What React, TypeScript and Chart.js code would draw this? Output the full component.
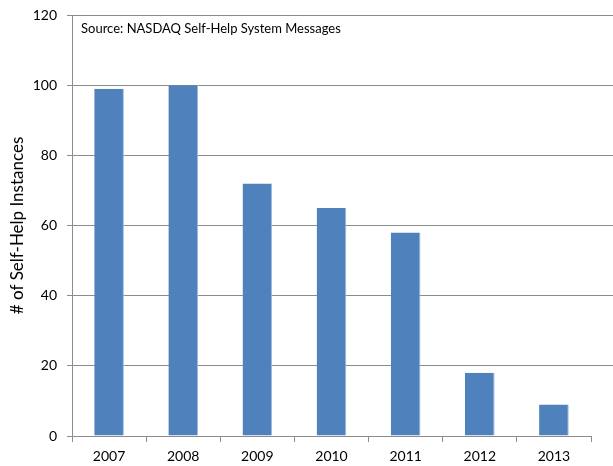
import React, { useEffect, useRef } from "react";
import { Chart, registerables } from "chart.js";

Chart.register(...registerables);

const categories = ["2007", "2008", "2009", "2010", "2011", "2012", "2013"];
const instances = [99, 100, 72, 65, 58, 18, 9];
const yTicks = [0, 20, 40, 60, 80, 100, 120];
const sourceNote = "Source: NASDAQ Self-Help System Messages";
const yTitle = "# of Self-Help Instances";

const FONT = "Lato, 'Liberation Sans', sans-serif";
const GRID = "#8c8c8c";

const extendGrid = {
  id: "extendGrid",
  beforeDatasetsDraw(chart: any) {
    const { ctx, chartArea, scales } = chart;
    const y = scales.y;
    ctx.save();
    ctx.strokeStyle = GRID;
    ctx.lineWidth = 1;
    yTicks.forEach((v) => {
      if (v === 0) return;
      const py = Math.round(y.getPixelForValue(v) - 0.5) + 0.5;
      ctx.beginPath();
      ctx.moveTo(chartArea.right, py);
      ctx.lineTo(chart.width, py);
      ctx.stroke();
    });
    ctx.restore();
  },
  afterDraw(chart: any) {
    const { ctx, chartArea } = chart;
    ctx.save();
    ctx.fillStyle = "#000";
    ctx.font = "13px " + FONT;
    ctx.textBaseline = "middle";
    ctx.textAlign = "left";
    ctx.fillText(sourceNote, chartArea.left + 9, chartArea.top + 14);
    ctx.restore();
  },
};

export default function App() {
  const ref = useRef<HTMLCanvasElement>(null);
  useEffect(() => {
    document.body.style.margin = "0";
    const chart = new Chart(ref.current!, {
      type: "bar",
      data: {
        labels: categories,
        datasets: [
          {
            data: instances,
            backgroundColor: "#4f81bd",
            borderColor: "#9dbbe0",
            borderWidth: { right: 1, top: 0, left: 0, bottom: 0 },
            categoryPercentage: 1,
            barPercentage: 0.4,
          },
        ],
      },
      options: {
        animation: false,
        responsive: false,
        maintainAspectRatio: false,
        layout: { padding: { top: 15, right: 22, left: 0, bottom: 0 } },
        plugins: { legend: { display: false }, tooltip: { enabled: false } },
        scales: {
          x: {
            grid: {
              display: true,
              drawOnChartArea: false,
              offset: true,
              tickLength: 6,
              color: GRID,
            },
            border: { color: GRID },
            ticks: { color: "#000", font: { family: FONT, size: 14 }, padding: 6 },
            afterFit(s: any) {
              s.height = 30;
              s.paddingLeft = 0;
              s.paddingRight = 0;
            },
          },
          y: {
            min: 0,
            max: 120,
            afterBuildTicks(s: any) {
              s.ticks = yTicks.map((v) => ({ value: v }));
            },
            grid: { color: GRID, tickLength: 5 },
            border: { color: GRID },
            ticks: { color: "#000", font: { family: FONT, size: 14 }, padding: 10 },
            title: {
              display: true,
              text: yTitle,
              color: "#000",
              font: { family: FONT, size: 17 },
              padding: { top: 7, bottom: 2 },
            },
            afterFit(s: any) {
              s.width = 72;
              s.paddingTop = 0;
              s.paddingBottom = 0;
            },
          },
        },
      },
      plugins: [extendGrid],
    });
    return () => chart.destroy();
  }, []);
  return <canvas ref={ref} width={613} height={466} style={{ display: "block" }} />;
}
